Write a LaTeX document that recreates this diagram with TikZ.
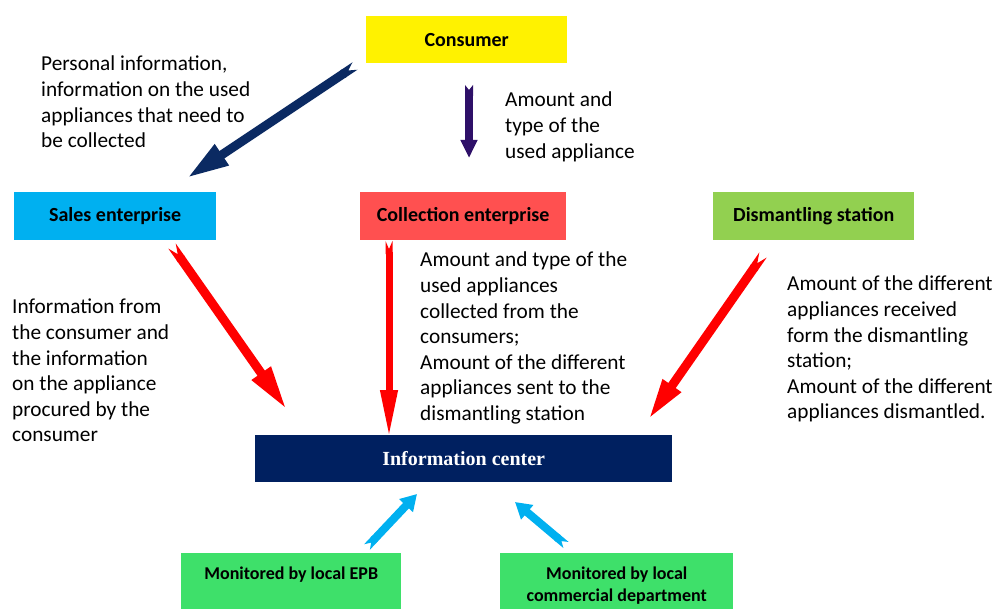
\documentclass[tikz,border=0pt]{standalone}
\usepackage{fontspec}
\setmainfont{Carlito}
\newfontfamily\timesfont{Liberation Serif}
\usepackage{tikz}
\usetikzlibrary{arrows.meta}
\usetikzlibrary{positioning}

\definecolor{salesblue}{HTML}{00B0F0}
\definecolor{collectred}{HTML}{FF5050}
\definecolor{dismgreen}{HTML}{92D050}
\definecolor{monitorgreen}{HTML}{3EE06A}
\definecolor{centernavy}{HTML}{002060}
\definecolor{arrownavy}{HTML}{0B2A62}
\definecolor{arrowpurple}{HTML}{2E1068}

\tikzset{
  party_box/.style = {anchor=north west, inner sep=0pt, align=center,
    font=\fontsize{20}{24}\selectfont\bfseries},
  monitor_box/.style = {anchor=north west, inner sep=0pt, align=center,
    fill=monitorgreen, minimum height=56pt,
    font=\fontsize{18}{22}\selectfont\bfseries},
  note_text/.style = {anchor=north west, inner sep=0pt, align=left,
    font=\fontsize{21.3}{25.6}\selectfont},
  block_arrow/.style n args = {4}{line width=#1,
    {Triangle Cap[reversed, length=#2]}-{Triangle[width=#3, length=#4]}}
}

\begin{document}
\begin{tikzpicture}[x=1pt, y=-1pt]
  \useasboundingbox (0,0) rectangle (998,609);

  % boxes
  \node (consumer) [party_box, fill=yellow, minimum width=201pt,
    minimum height=47pt] at (366,16) {Consumer};
  \node (sales) [party_box, fill=salesblue, minimum width=202pt,
    minimum height=48pt] at (14,192) {Sales enterprise};
  \node (collection) [party_box, fill=collectred, minimum width=206pt,
    minimum height=48pt] at (360,192) {Collection enterprise};
  \node (dismantling) [party_box, fill=dismgreen, minimum width=201pt,
    minimum height=48pt] at (713,192) {Dismantling station};
  \node (center) [party_box, fill=centernavy, text=white, minimum width=417pt,
    minimum height=47pt, font=\timesfont\fontsize{20}{24}\selectfont\bfseries]
    at (255,435) {Information center};
  \node (epb) [monitor_box, minimum width=220pt, text height=13pt,
    text depth=17pt] at (181,553) {Monitored by local EPB};
  \node (commerce) [monitor_box, minimum width=233pt, text height=44pt,
    text depth=4pt] at (500,553)
    {Monitored by local\\commercial department};

  % notes
  \node (personal note) [note_text] at (41,56)
    {Personal information,\\information on the used\\appliances that need to\\be collected};
  \node (amount note) [note_text] at (505,92)
    {Amount and\\type of the\\used appliance};
  \node (sales note) [note_text] at (12,299)
    {Information from\\the consumer and\\the information\\on the appliance\\procured by the\\consumer};
  \node (collection note) [note_text] at (420,252)
    {Amount and type of the\\used appliances\\collected from the\\consumers;\\Amount of the different\\appliances sent to the\\dismantling station};
  \node (dismantling note) [note_text] at (787,276)
    {Amount of the different\\appliances received\\form the dismantling\\station;\\Amount of the different\\appliances dismantled.};

  % arrow ends
  \coordinate (navy tail) at (355,66);
  \coordinate (navy tip) at (187,178);
  \coordinate (purple tail) at (469,85);
  \coordinate (purple tip) at (469,158);
  \coordinate (sales tail) at (172,246);
  \coordinate (sales tip) at (287,410);
  \coordinate (collection tail) at (389,241);
  \coordinate (collection tip) at (389,438);
  \coordinate (dismantling tail) at (763,255);
  \coordinate (dismantling tip) at (648,420);
  \coordinate (epb tail) at (367,547);
  \coordinate (epb tip) at (417,494);
  \coordinate (commerce tail) at (566,545);
  \coordinate (commerce tip) at (515,502);

  \draw [block_arrow={9pt}{8pt}{23pt}{42pt}, arrownavy] (navy tail) -- (navy tip);
  \draw [block_arrow={8pt}{5pt}{16pt}{18pt}, arrowpurple] (purple tail) -- (purple tip);
  \draw [block_arrow={9pt}{10pt}{21pt}{45pt}, red] (sales tail) -- (sales tip);
  \draw [block_arrow={7pt}{8pt}{16pt}{48pt}, red] (collection tail) -- (collection tip);
  \draw [block_arrow={9pt}{10pt}{20pt}{42pt}, red] (dismantling tail) -- (dismantling tip);
  \draw [block_arrow={8pt}{6pt}{18pt}{16pt}, salesblue] (epb tail) -- (epb tip);
  \draw [block_arrow={8pt}{6pt}{18pt}{16pt}, salesblue] (commerce tail) -- (commerce tip);
\end{tikzpicture}
\end{document}
